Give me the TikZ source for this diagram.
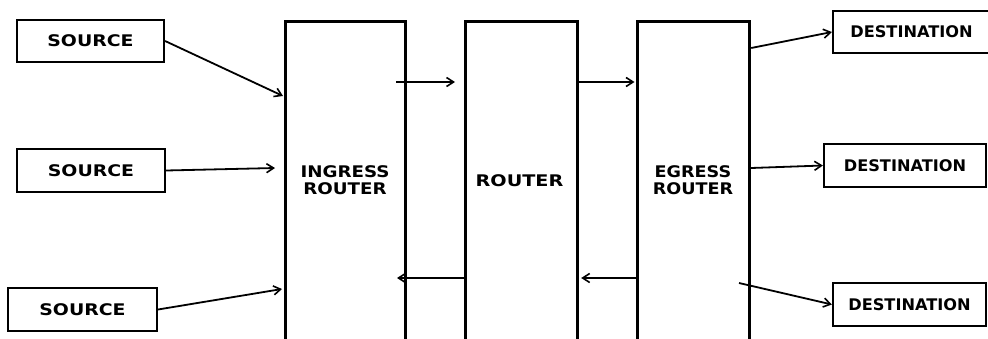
\documentclass[tikz,border=0pt]{standalone}
\usepackage{fontspec}
\usepackage{graphicx}
\setmainfont{DejaVu Sans}
\usetikzlibrary{arrows.meta}
\newcommand\lbl[2]{\scalebox{#1}[1]{#2}}
\begin{document}
\begin{tikzpicture}[x=1pt,y=-1pt,
  box/.style={draw=black,line width=2.2pt,inner sep=0pt,font=\bfseries\fontsize{16}{16.5}\selectfont},
  rtr/.style={draw=black,line width=3.2pt,inner sep=0pt,anchor=north west,minimum height=340pt},
  txt/.style={inner sep=0pt,align=center,font=\bfseries\fontsize{16}{16.5}\selectfont},
  arr/.style={line width=1.8pt,-{Straight Barb[length=7pt,width=9pt,line width=1.6pt]}}]
\useasboundingbox (0,0) rectangle (988,338);
\clip (0,0) rectangle (988,338);
% sources
\node[box,minimum width=147pt,minimum height=42pt] (s1) at (90.5,41) {\lbl{1.18}{SOURCE}};
\node[box,minimum width=148pt,minimum height=43pt] (s2) at (91,170.5) {\lbl{1.18}{SOURCE}};
\node[box,minimum width=149pt,minimum height=43pt] (s3) at (82.5,309.5) {\lbl{1.18}{SOURCE}};
% routers
\node[rtr,minimum width=120pt] (ing) at (284,20) {};
\node[rtr,minimum width=112pt] (rt) at (464,20) {};
\node[rtr,minimum width=112pt] (eg) at (636,20) {};
\node[txt] (ingl) at (345,180) {\lbl{1.14}{INGRESS}\\\lbl{1.14}{ROUTER}};
\node[txt] (rtl) at (519.5,181) {\lbl{1.2}{ROUTER}};
\node[txt] (egl) at (693,180) {\lbl{1.1}{EGRESS}\\\lbl{1.1}{ROUTER}};
% destinations
\node[box,minimum width=157pt,minimum height=42pt] (d1) at (911.5,32) {\lbl{1.01}{DESTINATION}};
\node[box,minimum width=162pt,minimum height=43pt] (d2) at (905,165.5) {\lbl{1.01}{DESTINATION}};
\node[box,minimum width=153pt,minimum height=43pt] (d3) at (909.5,304.5) {\lbl{1.01}{DESTINATION}};
% coordinates
\coordinate (i1) at (283,96);
\coordinate (i2) at (275,168);
\coordinate (i3) at (282,289);
\coordinate (f1s) at (396,82);
\coordinate (f1e) at (455,82);
\coordinate (b2e) at (397,278);
\coordinate (e3s) at (739,283);
% arrows
\draw[arr] (s1.east) -- (i1);
\draw[arr] (s2.east) -- (i2);
\draw[arr] (s3.east) -- (i3);
\draw[arr] (f1s) -- (f1e);
\draw[arr] (rt.east |- f1s) -- ([xshift=-1.5pt]eg.west |- f1s);
\draw[arr] (eg.west |- b2e) -- ([xshift=2pt]rt.east |- b2e);
\draw[arr] (rt.west |- b2e) -- (b2e);
\draw[arr] (eg.east |- 0,48) -- (d1.west);
\draw[arr] (eg.east |- 0,168) -- (d2.west);
\draw[arr] (e3s) -- (d3.west);
\end{tikzpicture}
\end{document}
